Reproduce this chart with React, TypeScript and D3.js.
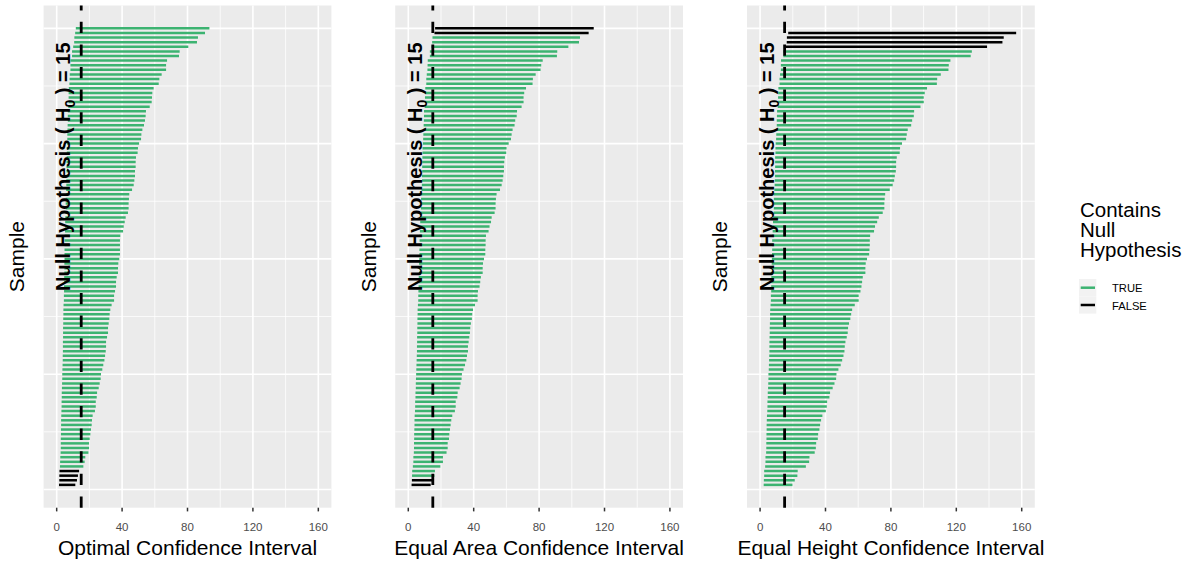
import React from "react";
import * as d3 from "d3";

// intervals listed from the top row of each panel down to the bottom row
const optimalUpper = [
  93.4, 90.7, 86.4, 85.8, 80.5, 75.2, 74.8, 67.5, 66.9, 66.9,
  64.2, 62.8, 62.4, 59.3, 58.5, 58.3, 58.1, 56.9, 54.6, 54.4,
  54.0, 53.4, 52.4, 51.8, 51.6, 50.4, 49.7, 49.5, 48.5, 48.3,
  48.3, 47.9, 47.9, 47.5, 47.1, 46.1, 44.4, 44.2, 44.0, 44.0,
  43.6, 42.2, 41.6, 41.0, 40.6, 38.9, 38.7, 38.7, 38.7, 38.7,
  38.3, 37.7, 37.5, 37.5, 36.7, 36.3, 36.3, 35.7, 35.1, 35.1,
  33.6, 32.8, 32.4, 32.2, 31.8, 31.4, 31.4, 30.8, 30.2, 30.2,
  30.0, 29.6, 29.2, 28.5, 27.9, 27.1, 26.9, 26.3, 25.7, 24.7,
  24.5, 23.9, 23.9, 23.4, 22.0, 21.6, 21.4, 21.0, 20.6, 20.2,
  19.8, 19.8, 19.4, 17.5, 17.1, 16.3, 13.7, 13.0, 12.4, 11.4,
];
const optimalLower = [
  11.7, 11.3, 10.8, 10.7, 10.1, 9.4, 9.4, 8.4, 8.4, 8.4,
  8.0, 7.9, 7.8, 7.4, 7.3, 7.3, 7.3, 7.1, 6.8, 6.8,
  6.8, 6.7, 6.6, 6.5, 6.5, 6.3, 6.2, 6.2, 6.1, 6.0,
  6.0, 6.0, 6.0, 5.9, 5.9, 5.8, 5.6, 5.5, 5.5, 5.5,
  5.5, 5.3, 5.2, 5.1, 5.1, 4.9, 4.8, 4.8, 4.8, 4.8,
  4.8, 4.7, 4.7, 4.7, 4.6, 4.5, 4.5, 4.5, 4.4, 4.4,
  4.2, 4.1, 4.1, 4.0, 4.0, 3.9, 3.9, 3.9, 3.8, 3.8,
  3.8, 3.7, 3.7, 3.6, 3.5, 3.4, 3.4, 3.3, 3.2, 3.1,
  3.1, 3.0, 3.0, 2.9, 2.8, 2.7, 2.7, 2.6, 2.6, 2.5,
  2.5, 2.5, 2.4, 2.2, 2.1, 2.0, 1.7, 1.6, 1.6, 1.4,
];
const equalAreaUpper = [
  113.4, 110.3, 105.0, 104.4, 97.9, 91.1, 90.9, 82.2, 81.3, 80.9,
  77.9, 76.2, 76.0, 72.0, 70.9, 70.5, 70.5, 69.3, 66.5, 66.3,
  65.4, 65.0, 63.8, 63.2, 62.8, 61.4, 60.1, 59.9, 59.1, 58.7,
  58.5, 58.5, 58.1, 57.7, 57.1, 56.1, 54.0, 53.6, 53.4, 53.4,
  52.8, 51.0, 50.6, 49.7, 49.1, 47.5, 47.3, 47.3, 47.1, 47.1,
  46.3, 45.7, 45.5, 45.5, 44.4, 44.0, 43.6, 42.6, 42.4, 42.4,
  40.8, 39.6, 39.1, 38.9, 38.3, 37.9, 37.7, 37.3, 36.9, 36.5,
  36.5, 35.9, 35.5, 34.7, 33.8, 32.8, 32.6, 32.0, 31.4, 30.2,
  30.0, 29.0, 29.0, 28.5, 26.9, 26.3, 25.9, 25.5, 25.1, 24.9,
  24.1, 24.1, 23.4, 21.2, 21.2, 19.6, 16.3, 16.0, 14.9, 13.7,
];
const equalAreaLower = [
  16.4, 16.0, 14.8, 14.6, 14.2, 13.2, 13.2, 11.9, 11.8, 11.7,
  11.3, 11.0, 11.0, 10.4, 10.3, 10.2, 10.2, 10.0, 9.6, 9.6,
  9.5, 9.4, 9.3, 9.2, 9.1, 8.9, 8.7, 8.7, 8.6, 8.5,
  8.5, 8.5, 8.4, 8.4, 8.3, 8.1, 7.8, 7.8, 7.7, 7.7,
  7.7, 7.4, 7.3, 7.2, 7.1, 6.9, 6.9, 6.9, 6.8, 6.8,
  6.7, 6.6, 6.6, 6.6, 6.4, 6.4, 6.3, 6.2, 6.1, 6.1,
  5.9, 5.7, 5.7, 5.6, 5.6, 5.5, 5.5, 5.4, 5.4, 5.3,
  5.3, 5.2, 5.1, 5.0, 4.9, 4.8, 4.7, 4.6, 4.6, 4.4,
  4.4, 4.2, 4.2, 4.1, 3.9, 3.8, 3.8, 3.7, 3.6, 3.6,
  3.5, 3.5, 3.4, 3.1, 3.1, 2.8, 2.4, 2.3, 2.2, 2.0,
];
// the top row of this panel lies beyond the axis limit and is not drawn
const equalHeightUpper = [
  156.6, 149.0, 148.2, 138.8, 129.5, 128.8, 116.4, 115.4, 115.2,
  110.5, 108.3, 108.1, 102.1, 100.7, 100.1, 100.1, 98.1, 94.2, 94.0,
  93.0, 92.4, 90.3, 89.7, 89.3, 86.8, 85.6, 85.4, 83.6, 83.2,
  83.2, 83.0, 82.4, 82.0, 81.1, 79.3, 76.5, 76.2, 76.0, 76.0,
  75.0, 72.6, 71.6, 70.3, 69.7, 67.3, 67.1, 67.1, 66.9, 66.7,
  65.4, 64.6, 64.4, 64.4, 62.8, 62.4, 62.0, 61.4, 60.3, 60.3,
  57.9, 56.3, 55.7, 55.2, 54.4, 53.8, 53.6, 53.0, 52.2, 51.8,
  51.6, 51.0, 50.2, 49.3, 47.9, 46.7, 46.5, 45.5, 44.4, 42.8,
  42.4, 41.0, 40.8, 40.2, 38.1, 37.3, 36.7, 36.3, 35.5, 35.3,
  34.3, 34.1, 33.4, 30.2, 30.0, 28.0, 23.0, 22.8, 21.2, 19.8,
];
const equalHeightLower = [
  17.2, 16.4, 16.3, 15.3, 14.3, 14.2, 12.8, 12.7, 12.7,
  12.2, 11.9, 11.9, 11.2, 11.1, 11.0, 11.0, 10.8, 10.4, 10.3,
  10.2, 10.2, 9.9, 9.9, 9.8, 9.5, 9.4, 9.4, 9.2, 9.2,
  9.2, 9.1, 9.1, 9.0, 8.9, 8.7, 8.4, 8.4, 8.4, 8.4,
  8.3, 8.0, 7.9, 7.7, 7.7, 7.4, 7.4, 7.4, 7.4, 7.3,
  7.2, 7.1, 7.1, 7.1, 6.9, 6.9, 6.8, 6.8, 6.6, 6.6,
  6.4, 6.2, 6.1, 6.1, 6.0, 5.9, 5.9, 5.8, 5.7, 5.7,
  5.7, 5.6, 5.5, 5.4, 5.3, 5.1, 5.1, 5.0, 4.9, 4.7,
  4.7, 4.5, 4.5, 4.4, 4.2, 4.1, 4.0, 4.0, 3.9, 3.9,
  3.8, 3.8, 3.7, 3.3, 3.3, 3.1, 2.5, 2.5, 2.3, 2.2,
];

const xTicks = [0, 40, 80, 120, 160];
const xMinor = [20, 60, 100, 140];
const yMajor = [0, 25, 50, 75, 100];
const yMinor = [12.5, 37.5, 62.5, 87.5];
const nullValue = 15;
const legendTitle = ["Contains", "Null", "Hypothesis"];
const legendLabels = ["TRUE", "FALSE"];

const GREEN = "#3CB371";
const FONT = "'Liberation Sans', Arial, Helvetica, sans-serif";

const panels = [
  { left: 43.6, title: "Optimal Confidence Interval", lo: optimalLower, hi: optimalUpper },
  { left: 395.2, title: "Equal Area Confidence Interval", lo: equalAreaLower, hi: equalAreaUpper },
  { left: 747, title: "Equal Height Confidence Interval", lo: equalHeightLower, hi: equalHeightUpper },
];

const PW = 287.8;
const TOP = 5.5;
const BOTTOM = 507.7;

function Panel({ p }: { p: (typeof panels)[number] }) {
  const x = d3.scaleLinear().domain([-8, 168]).range([p.left, p.left + PW]);
  const y = d3.scaleLinear().domain([-3.95, 104.95]).range([BOTTOM, TOP]);
  const n = p.hi.length;
  const rows = p.hi.map((hi, i) => ({
    sample: n - i,
    lo: p.lo[i],
    hi,
    ok: p.lo[i] <= nullValue && hi >= nullValue,
  }));
  const cx = p.left + PW / 2;
  return (
    <g>
      <rect x={p.left} y={TOP} width={PW} height={BOTTOM - TOP} fill="#EBEBEB" />
      {yMinor.map((v) => (
        <line key={"ym" + v} x1={p.left} x2={p.left + PW} y1={y(v)} y2={y(v)} stroke="#fff" strokeWidth={0.8} />
      ))}
      {xMinor.map((v) => (
        <line key={"xm" + v} x1={x(v)} x2={x(v)} y1={TOP} y2={BOTTOM} stroke="#fff" strokeWidth={0.8} />
      ))}
      {yMajor.map((v) => (
        <line key={"yM" + v} x1={p.left} x2={p.left + PW} y1={y(v)} y2={y(v)} stroke="#fff" strokeWidth={1.6} />
      ))}
      {xTicks.map((v) => (
        <line key={"xM" + v} x1={x(v)} x2={x(v)} y1={TOP} y2={BOTTOM} stroke="#fff" strokeWidth={1.6} />
      ))}
      {rows.map((r) => (
        <line
          key={"s" + r.sample}
          x1={x(r.lo)}
          x2={x(r.hi)}
          y1={y(r.sample)}
          y2={y(r.sample)}
          stroke={r.ok ? GREEN : "#000"}
          strokeWidth={2.5}
        />
      ))}
      <line
        x1={x(nullValue)}
        x2={x(nullValue)}
        y1={BOTTOM}
        y2={TOP}
        stroke="#000"
        strokeWidth={2.8}
        strokeDasharray="11.3 11.3"
      />
      <text
        transform={`translate(${x(4) + 7.2},${y(70)}) rotate(-90)`}
        textAnchor="middle"
        fontFamily={FONT}
        fontWeight="bold"
        fontSize={20}
        fill="#000"
      >
        Null Hypothesis ( H
        <tspan fontSize={14} dy={5}>0</tspan>
        <tspan dy={-5}> ) = 15</tspan>
      </text>
      {xTicks.map((v) => (
        <g key={"t" + v}>
          <line x1={x(v)} x2={x(v)} y1={BOTTOM} y2={BOTTOM + 3.7} stroke="#333" strokeWidth={1.5} />
          <text x={x(v)} y={530.5} textAnchor="middle" fontFamily={FONT} fontSize={11.5} fill="#4D4D4D">
            {v}
          </text>
        </g>
      ))}
      <text x={cx} y={555} textAnchor="middle" fontFamily={FONT} fontSize={21} fill="#000">
        {p.title}
      </text>
      <text
        transform={`translate(${p.left - 19.6},${(TOP + BOTTOM) / 2}) rotate(-90)`}
        textAnchor="middle"
        fontFamily={FONT}
        fontSize={21}
        fill="#000"
      >
        Sample
      </text>
    </g>
  );
}

export default function App() {
  return (
    <div style={{ position: "fixed", left: 0, top: 0 }}>
      <svg width={1195} height={565} style={{ display: "block", background: "#fff" }}>
        {panels.map((p) => (
          <Panel key={p.title} p={p} />
        ))}
        <g fontFamily={FONT}>
          {legendTitle.map((t, i) => (
            <text key={t} x={1080} y={216.5 + i * 20} fontSize={20.5} fill="#000">
              {t}
            </text>
          ))}
          {legendLabels.map((t, i) => (
            <g key={t}>
              <rect x={1079} y={279 + i * 17.3} width={17.3} height={17.3} fill="#F2F2F2" />
              <line
                x1={1080.7}
                x2={1095}
                y1={287.7 + i * 17.3}
                y2={287.7 + i * 17.3}
                stroke={i === 0 ? GREEN : "#000"}
                strokeWidth={2.5}
              />
              <text x={1112} y={292.3 + i * 17.7} fontSize={11.2} fill="#000">
                {t}
              </text>
            </g>
          ))}
        </g>
      </svg>
    </div>
  );
}
